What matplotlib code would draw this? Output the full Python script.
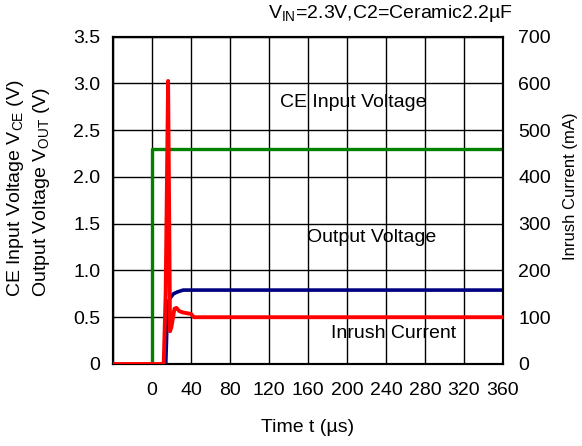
import matplotlib
matplotlib.use("Agg")
import matplotlib.pyplot as plt

plt.rcParams['font.family'] = ['Liberation Sans', 'DejaVu Sans']
plt.rcParams['mathtext.fontset'] = 'custom'
plt.rcParams['mathtext.rm'] = 'Liberation Sans'

# CE input voltage (V)
t_ce = [-40, 0, 0, 360]
v_ce = [0, 0, 2.3, 2.3]
# Output voltage (V)
t_out = [-40, 14, 15, 16, 17, 19, 22, 26, 32, 360]
v_out = [-0.035, -0.035, 0.3, 0.62, 0.67, 0.71, 0.75, 0.77, 0.79, 0.79]
# Inrush current (mA)
t_in = [-40, 12, 14, 16.5, 17.5, 18.5, 20, 23, 25, 28, 32, 40, 43, 360]
i_in = [0, 0, 150, 605, 350, 70, 80, 118, 120, 113, 110, 107, 100, 100]

xticks = [0, 40, 80, 120, 160, 200, 240, 280, 320, 360]
yticks_l = [0, 0.5, 1.0, 1.5, 2.0, 2.5, 3.0, 3.5]
ylabels_l = ['0', '0.5', '1.0', '1.5', '2.0', '2.5', '3.0', '3.5']
yticks_r = [0, 100, 200, 300, 400, 500, 600, 700]

FS = 14

fig = plt.figure(figsize=(5.82, 4.46), dpi=100)
ax = fig.add_axes([113/582, 1-364/446, 390/582, (364-36.5)/446])
ax2 = ax.twinx()

ax.plot(t_ce, v_ce, color='#008000', lw=2.4, zorder=3)
ax.plot(t_out, v_out, color='#000080', lw=2.6, zorder=4)
ax2.plot(t_in, i_in, color='#ff0000', lw=2.8, zorder=5)

ax.set_xlim(-40, 360)
ax.set_ylim(0, 3.5)
ax2.set_ylim(0, 700)

ax.set_xticks([-40] + xticks)
ax.set_xticklabels([''] + [str(x) for x in xticks])
ax.set_yticks(yticks_l)
ax.set_yticklabels(ylabels_l)
ax2.set_yticks(yticks_r)
ax.grid(True, color='black', lw=1)
for a in (ax, ax2):
    a.tick_params(length=0, labelsize=FS)
    for s in a.spines.values():
        s.set_linewidth(1.5)
ax.tick_params(axis='x', pad=13)
ax.tick_params(axis='y', pad=9)
ax2.tick_params(axis='y', pad=11)

ax2.set_zorder(ax.get_zorder() + 1)
ax2.patch.set_visible(False)
ax.patch.set_facecolor('white')

ax.set_xlabel('Time t (µs)', fontsize=FS, labelpad=14)
fig.text(15.5/582, 1-297/446, 'CE Input Voltage V$_{\\mathregular{CE}}$ (V)', rotation=90,
         ha='center', va='bottom', fontsize=FS)
fig.text(42/582, 1-297/446, 'Output Voltage V$_{\\mathregular{OUT}}$ (V)', rotation=90,
         ha='center', va='bottom', fontsize=FS)
fig.text(571/582, 1-186/446, 'Inrush Current (mA)', rotation=90,
         ha='center', va='center', fontsize=12)

fig.text(513/582, 1-14/446, 'V$_{\\mathregular{IN}}$=2.3V,C2=Ceramic2.2µF',
         ha='right', va='center', fontsize=FS)

ax.text(206, 2.80, 'CE Input Voltage', ha='center', va='center', fontsize=FS)
ax.text(225, 1.35, 'Output Voltage', ha='center', va='center', fontsize=FS)
ax.text(248, 0.33, 'Inrush Current', ha='center', va='center', fontsize=FS)

fig.savefig('out.png', dpi=100)
